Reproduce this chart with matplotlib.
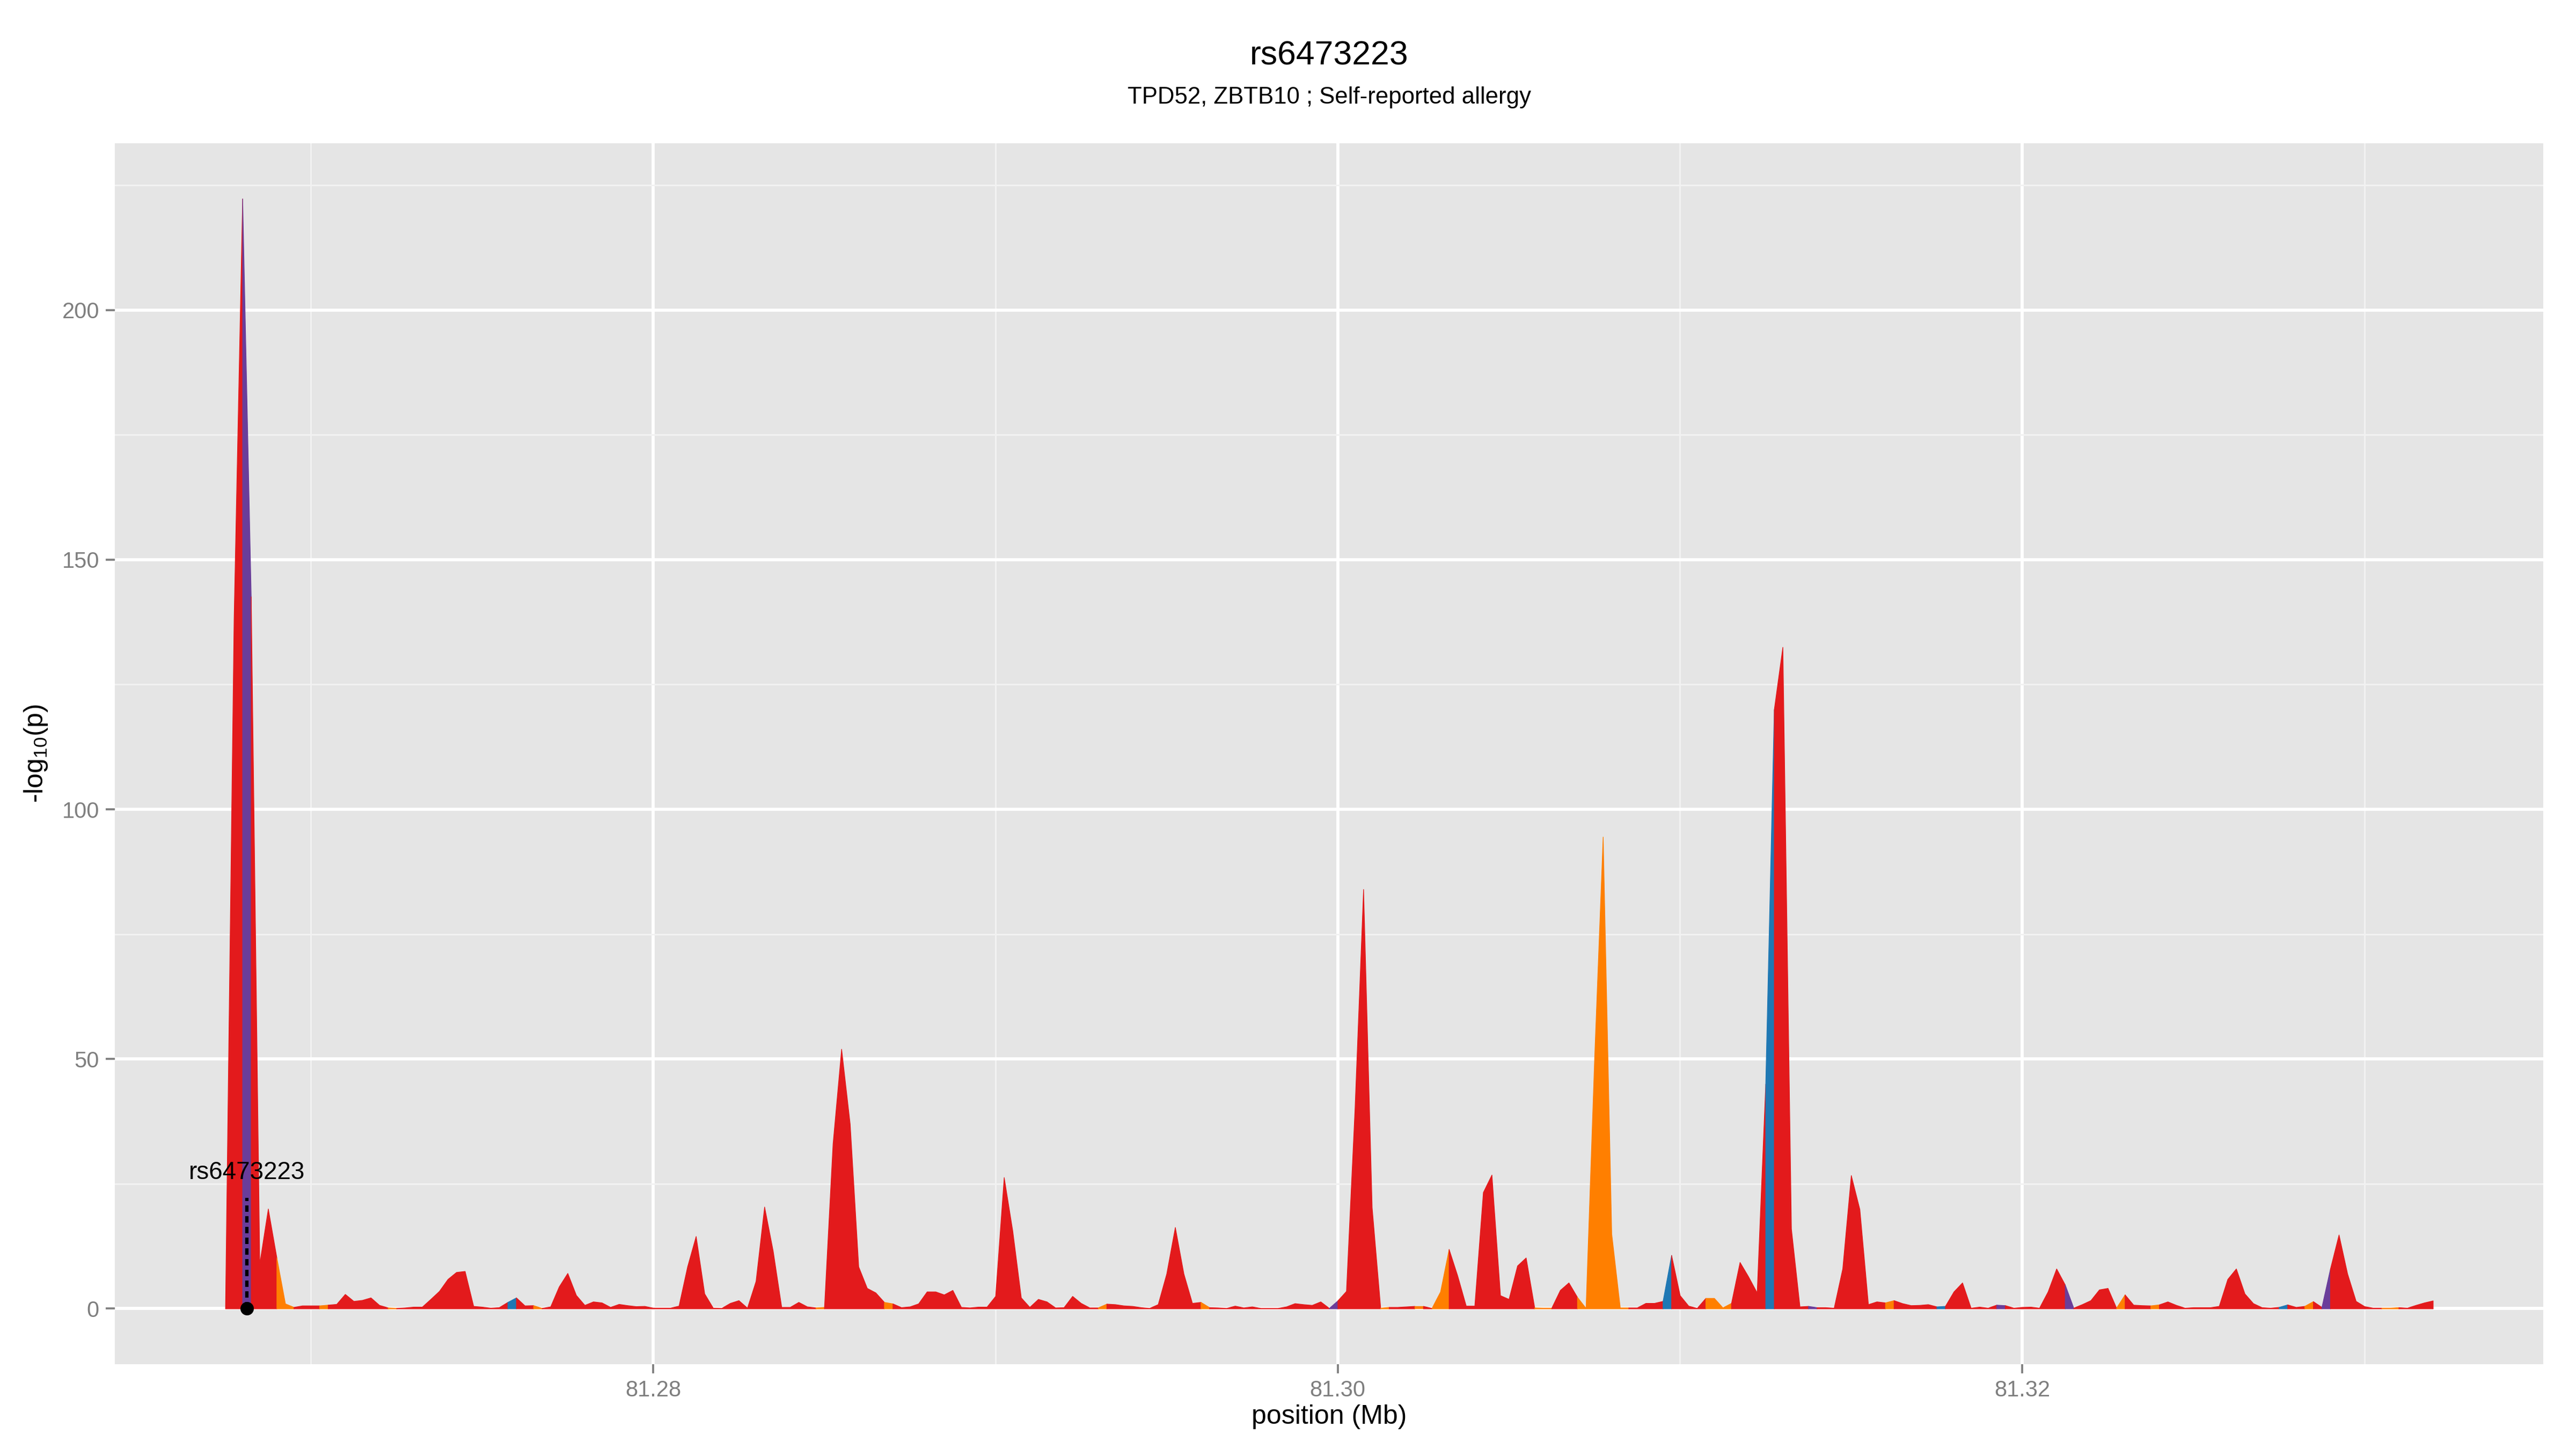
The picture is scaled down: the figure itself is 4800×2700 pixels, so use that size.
import numpy as np
import matplotlib
matplotlib.use('Agg')
import matplotlib.pyplot as plt
from matplotlib.ticker import FixedLocator

plt.rcParams['font.family'] = ['Liberation Sans', 'DejaVu Sans']
plt.rcParams['mathtext.default'] = 'regular'

# --- data ---
snp_id = 'rs6473223'
snp_pos_mb = 81.26813
snp_line_top = 22.2
genes_trait = 'TPD52, ZBTB10 ; Self-reported allergy'

# 250 bp bins, first bin at 81.2675 Mb
bin_start_mb = 81.2675
bin_step_mb = 0.00025

logp = [
    0.3, 138, 222.3, 142.6, 9.0, 20.0, 10.2, 1.0, 0.3, 0.6,          # 0
    0.6, 0.6, 0.75, 0.9, 2.9, 1.5, 1.7, 2.2, 0.7, 0.2,               # 10
    0.1, 0.2, 0.35, 0.35, 1.9, 3.5, 5.9, 7.3, 7.5, 0.5,              # 20
    0.35, 0.15, 0.25, 1.3, 2.2, 0.6, 0.65, 0.1, 0.4, 4.4,            # 30
    7.1, 2.7, 0.7, 1.4, 1.2, 0.3, 0.9, 0.65, 0.45, 0.5,              # 40
    0.15, 0.15, 0.15, 0.55, 8.4, 14.5, 3.0, 0.15, 0.1, 1.1,          # 50
    1.65, 0.15, 5.5, 20.4, 11.6, 0.3, 0.3, 1.3, 0.4, 0.2,            # 60
    0.3, 33, 52, 37, 8.4, 4.1, 3.2, 1.3, 1.0, 0.25,                  # 70
    0.4, 1.0, 3.4, 3.4, 2.8, 3.7, 0.3, 0.2, 0.35, 0.35,              # 80
    2.5, 26.3, 15.6, 2.2, 0.3, 1.9, 1.4, 0.2, 0.25, 2.5,             # 90
    1.1, 0.2, 0.2, 0.95, 0.85, 0.6, 0.5, 0.25, 0.1, 0.85,            # 100
    7.0, 16.3, 7.0, 1.1, 1.3, 0.25, 0.2, 0.1, 0.55, 0.2,             # 110
    0.4, 0.1, 0.1, 0.1, 0.4, 1.05, 0.85, 0.7, 1.4, 0.1,              # 120
    1.6, 3.5, 40, 84, 20.3, 0.15, 0.3, 0.3, 0.4, 0.5,                # 130
    0.5, 0.1, 3.4, 11.9, 6.6, 0.55, 0.55, 23.3, 26.8, 2.65,          # 140
    1.9, 8.6, 10.2, 0.2, 0.15, 0.15, 3.7, 5.2, 2.3, 0.1,             # 150
    50, 94.5, 15, 0.2, 0.2, 0.2, 1.1, 1.1, 1.5, 10.7,                # 160
    2.65, 0.55, 0.1, 2.1, 2.1, 0.2, 1.1, 9.3, 6.4, 3.2,              # 170
    45, 120, 132.5, 16, 0.4, 0.5, 0.25, 0.25, 0.15, 8.0,             # 180
    26.7, 19.9, 0.85, 1.4, 1.2, 1.65, 1.05, 0.65, 0.7, 0.85,         # 190
    0.4, 0.5, 3.4, 5.2, 0.15, 0.35, 0.15, 0.75, 0.65, 0.15,          # 200
    0.3, 0.35, 0.15, 3.4, 8.0, 4.8, 0.15, 0.85, 1.65, 3.8,           # 210
    4.1, 0.15, 2.8, 0.75, 0.65, 0.6, 0.8, 1.4, 0.7, 0.15,            # 220
    0.25, 0.25, 0.25, 0.5, 5.9, 8.0, 3.0, 1.05, 0.25, 0.15,          # 230
    0.3, 0.8, 0.3, 0.5, 1.45, 0.3, 8.0, 14.8, 7.0, 1.5,              # 240
    0.45, 0.15, 0.15, 0.15, 0.25, 0.15, 0.7, 1.2, 1.6,               # 250
]

# segments (bin i -> i+1) that are not red
orange_segs = [6, 7, 11, 19, 36, 69, 77, 102, 114, 135, 139, 141, 142, 153, 154,
               158, 159, 160, 161, 162, 163, 173, 174, 175, 194, 221, 225, 243, 252, 253]
blue_segs = [33, 168, 180, 200, 240]
purple_segs = [2, 129, 185, 207, 215, 245]

fill_colours = {'red': '#E31A1C', 'orange': '#FF7F00', 'blue': '#1F78B4', 'purple': '#6A3D9A'}

pos = bin_start_mb + bin_step_mb * np.arange(len(logp))
vals = np.array(logp, dtype=float)

seg_col = ['red'] * (len(logp) - 1)
for s in orange_segs:
    seg_col[s] = 'orange'
for s in blue_segs:
    seg_col[s] = 'blue'
for s in purple_segs:
    seg_col[s] = 'purple'

fig = plt.figure(figsize=(16, 9), dpi=300)
ax = fig.add_axes([0.0446, 0.0586, 0.9427, 0.8426])
ax.set_facecolor('#E5E5E5')

# fill runs of same colour
start = 0
for k in range(1, len(seg_col) + 1):
    if k == len(seg_col) or seg_col[k] != seg_col[start]:
        c = fill_colours[seg_col[start]]
        ax.fill_between(pos[start:k + 1], 0, vals[start:k + 1], facecolor=c,
                        edgecolor=c, linewidth=0.3, zorder=2)
        start = k

# marked SNP
ax.plot([snp_pos_mb, snp_pos_mb], [0, snp_line_top], color='black', lw=1.5,
        ls=(0, (1.9, 1.3)), zorder=4)
ax.plot(snp_pos_mb, 0, 'o', color='black', ms=5, zorder=5, clip_on=False)
ax.text(snp_pos_mb, 27.2, snp_id, ha='center', va='center', fontsize=11, zorder=6)

xpad = (pos[-1] - pos[0]) * 0.05
ypad = vals.max() * 0.05
ax.set_xlim(pos[0] - xpad, pos[-1] + xpad)
ax.set_ylim(-ypad, vals.max() + ypad)

ax.set_xticks([81.28, 81.30, 81.32])
ax.set_xticklabels(['81.28', '81.30', '81.32'])
ax.xaxis.set_minor_locator(FixedLocator([81.27, 81.29, 81.31, 81.33]))
ax.set_yticks([0, 50, 100, 150, 200])
ax.yaxis.set_minor_locator(FixedLocator([25, 75, 125, 175, 225]))

ax.grid(which='major', color='white', lw=1.4, zorder=0)
ax.grid(which='minor', color='#F2F2F2', lw=0.7, zorder=0)
ax.set_axisbelow(True)
for sp in ax.spines.values():
    sp.set_visible(False)

ax.tick_params(which='major', length=4, width=0.9, color='#7F7F7F',
               labelcolor='#7F7F7F', labelsize=10, pad=3)
ax.tick_params(which='minor', length=0)

ax.set_xlabel('position (Mb)', fontsize=12, va='center')
ax.xaxis.set_label_coords(0.5, -0.043)
ax.set_ylabel('-log$_{10}$(p)', fontsize=12, va='center')
ax.yaxis.set_label_coords(-0.0325, 0.5)

fig.text(0.516, 0.9615, snp_id, ha='center', va='center', fontsize=15)
fig.text(0.516, 0.9328, genes_trait, ha='center', va='center', fontsize=10.5)

fig.savefig('out.png', dpi=300)
